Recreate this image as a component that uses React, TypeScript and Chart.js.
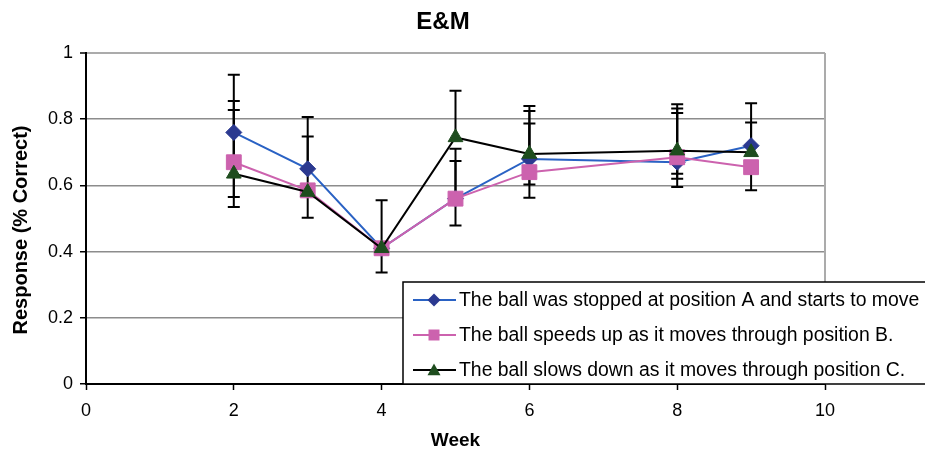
import React, { useEffect, useRef } from 'react';
import { Chart, registerables } from 'chart.js';

Chart.register(...registerables);

const chartTitle = 'E&M';
const xTitle = 'Week';
const yTitle = 'Response (% Correct)';

const weeks = [2, 3, 4, 5, 6, 8, 9];
const xTicks = [0, 2, 4, 6, 8, 10];
const yTicks = [0, 0.2, 0.4, 0.6, 0.8, 1];

const labelA = 'The ball was stopped at position A and starts to move';
const labelB = 'The ball speeds up as it moves through position B.';
const labelC = 'The ball slows down as it moves through position C.';

const valuesA = [0.76, 0.65, 0.41, 0.56, 0.68, 0.67, 0.72];
const valuesB = [0.67, 0.585, 0.41, 0.56, 0.64, 0.685, 0.655];
const valuesC = [0.635, 0.58, 0.41, 0.745, 0.695, 0.705, 0.7];

const errPlusA = [0.174, 0.157, 0, 0.114, 0.145, 0.149, 0.128];
const errMinusA = [0.195, 0, 0, 0, 0.077, 0.035, 0];
const errPlusB = [0.185, 0.163, 0, 0.151, 0.147, 0.147, 0];
const errMinusB = [0.135, 0, 0, 0.081, 0.077, 0.065, 0.07];
const errPlusC = [0.193, 0, 0.145, 0.141, 0.145, 0.14, 0.09];
const errMinusC = [0, 0.078, 0.073, 0, 0, 0.11, 0];

const FONT = "'Liberation Sans', Arial, sans-serif";

function pts(vals: number[]) {
  return weeks.map((w, i) => ({ x: w, y: vals[i] }));
}

const errorBarPlugin = {
  id: 'errorBars',
  beforeDatasetsDraw(chart: any) {
    const { ctx, chartArea, scales } = chart;
    const xs = scales.x;
    const ys = scales.y;
    ctx.save();
    ctx.strokeStyle = '#ababab';
    ctx.lineWidth = 2;
    ctx.beginPath();
    ctx.moveTo(chartArea.right, chartArea.top);
    ctx.lineTo(chartArea.right, chartArea.bottom);
    ctx.stroke();

    ctx.strokeStyle = '#000';
    ctx.lineWidth = 2;
    const cap = 6;
    chart.data.datasets.forEach((ds: any) => {
      const vals: number[] = ds.data.map((p: any) => p.y);
      ds.data.forEach((p: any, j: number) => {
        const x = xs.getPixelForValue(p.x);
        const y0 = ys.getPixelForValue(vals[j]);
        const plus = ds.errPlus[j];
        const minus = ds.errMinus[j];
        if (plus > 0) {
          const y1 = ys.getPixelForValue(vals[j] + plus);
          ctx.beginPath();
          ctx.moveTo(x, y0);
          ctx.lineTo(x, y1);
          ctx.moveTo(x - cap, y1);
          ctx.lineTo(x + cap, y1);
          ctx.stroke();
        }
        if (minus > 0) {
          const y2 = ys.getPixelForValue(vals[j] - minus);
          ctx.beginPath();
          ctx.moveTo(x, y0);
          ctx.lineTo(x, y2);
          ctx.moveTo(x - cap, y2);
          ctx.lineTo(x + cap, y2);
          ctx.stroke();
        }
      });
    });
    ctx.restore();
  },
};

function drawMarker(ctx: CanvasRenderingContext2D, style: string, x: number, y: number, r: number, fill: string) {
  ctx.fillStyle = fill;
  ctx.beginPath();
  if (style === 'rectRot') {
    ctx.moveTo(x, y - r);
    ctx.lineTo(x + r, y);
    ctx.lineTo(x, y + r);
    ctx.lineTo(x - r, y);
  } else if (style === 'rect') {
    ctx.rect(x - r, y - r, 2 * r, 2 * r);
  } else {
    ctx.moveTo(x, y - r);
    ctx.lineTo(x + r, y + r * 0.8);
    ctx.lineTo(x - r, y + r * 0.8);
  }
  ctx.closePath();
  ctx.fill();
}

const overlayPlugin = {
  id: 'overlay',
  afterDraw(chart: any) {
    const { ctx, chartArea } = chart;
    ctx.save();
    ctx.fillStyle = '#000';
    ctx.textAlign = 'center';
    ctx.textBaseline = 'middle';
    ctx.font = `bold 24px ${FONT}`;
    ctx.fillText(chartTitle, 443, 22);
    ctx.font = `bold 19px ${FONT}`;
    ctx.fillText(xTitle, (chartArea.left + chartArea.right) / 2, 441);
    ctx.save();
    ctx.translate(21, 230);
    ctx.rotate(-Math.PI / 2);
    ctx.font = `bold 20px ${FONT}`;
    ctx.fillText(yTitle, 0, 0);
    ctx.restore();

    const lx = 403;
    const ly = 282;
    ctx.fillStyle = '#fff';
    ctx.fillRect(lx, ly, 560, chartArea.bottom - ly);
    ctx.strokeStyle = '#000';
    ctx.lineWidth = 1.5;
    ctx.strokeRect(lx, ly, 560, chartArea.bottom - ly);
    const rows = [300, 335, 370];
    chart.data.datasets.forEach((ds: any, i: number) => {
      const y = rows[i];
      ctx.strokeStyle = ds.borderColor;
      ctx.lineWidth = 2;
      ctx.beginPath();
      ctx.moveTo(lx + 10, y);
      ctx.lineTo(lx + 53, y);
      ctx.stroke();
      drawMarker(ctx, ds.pointStyle, lx + 31, y, ds.pointStyle === 'rect' ? 5.5 : 6.5, ds.pointBackgroundColor);
      ctx.fillStyle = '#000';
      ctx.textAlign = 'left';
      ctx.textBaseline = 'middle';
      ctx.font = `19.4px ${FONT}`;
      ctx.fillText(ds.label, lx + 56, y + 1);
    });
    ctx.restore();
  },
};

export default function App() {
  const ref = useRef<HTMLCanvasElement>(null);
  useEffect(() => {
    if (!ref.current) return;
    const chart = new Chart(ref.current, {
      type: 'line',
      data: {
        datasets: [
          {
            label: labelA,
            data: pts(valuesA),
            errPlus: errPlusA,
            errMinus: errMinusA,
            order: 3,
            borderColor: '#2a62c4',
            borderWidth: 2,
            pointStyle: 'rectRot',
            pointRadius: 8,
            pointBackgroundColor: '#2b3990',
            pointBorderColor: '#2b3990',
            pointBorderWidth: 1,
          } as any,
          {
            label: labelB,
            data: pts(valuesB),
            errPlus: errPlusB,
            errMinus: errMinusB,
            order: 2,
            borderColor: '#cc62ae',
            borderWidth: 2,
            pointStyle: 'rect',
            pointRadius: 10.5,
            pointBackgroundColor: '#cc62ae',
            pointBorderColor: '#cc62ae',
            pointBorderWidth: 1,
          } as any,
          {
            label: labelC,
            data: pts(valuesC),
            errPlus: errPlusC,
            errMinus: errMinusC,
            order: 1,
            borderColor: '#000000',
            borderWidth: 2,
            pointStyle: 'triangle',
            pointRadius: 8.5,
            pointBackgroundColor: '#1e4d1e',
            pointBorderColor: '#1e4d1e',
            pointBorderWidth: 1,
          } as any,
        ],
      },
      options: {
        animation: false,
        responsive: false,
        devicePixelRatio: 1,
        layout: { padding: { top: 53, right: 100, left: 0, bottom: 0 } },
        plugins: {
          legend: { display: false },
          title: { display: false },
          tooltip: { enabled: false },
        },
        scales: {
          x: {
            type: 'linear',
            min: 0,
            max: 10,
            afterFit: (s: any) => { s.height = 67; },
            afterBuildTicks: (s: any) => { s.ticks = xTicks.map((v) => ({ value: v })); },
            ticks: {
              color: '#000',
              font: { family: FONT, size: 18 },
              padding: 10,
              maxRotation: 0,
              callback: (v: any) => String(v),
            },
            grid: {
              drawOnChartArea: false,
              drawTicks: true,
              tickLength: 6,
              tickColor: '#000',
              tickWidth: 1.5,
            },
            border: { color: '#000', width: 2 },
          },
          y: {
            type: 'linear',
            min: 0,
            max: 1,
            afterFit: (s: any) => { s.width = 86; },
            afterBuildTicks: (s: any) => { s.ticks = yTicks.map((v) => ({ value: v })); },
            ticks: {
              color: '#000',
              font: { family: FONT, size: 18 },
              padding: 7,
              callback: (v: any) => String(+Number(v).toFixed(1)),
            },
            grid: {
              color: (c: any) => (c.tick && c.tick.value === 1 ? '#ababab' : c.tick && c.tick.value === 0 ? 'rgba(0,0,0,0)' : '#8c8c8c'),
              lineWidth: (c: any) => (c.tick && c.tick.value === 1 ? 2 : 1.5),
              tickLength: 6,
              tickColor: '#000',
              tickWidth: 1.5,
            },
            border: { color: '#000', width: 2 },
          },
        },
      },
      plugins: [errorBarPlugin, overlayPlugin],
    } as any);
    return () => chart.destroy();
  }, []);
  return (
    <div style={{ position: 'absolute', left: 0, top: 0, width: 925, height: 451 }}>
      <canvas ref={ref} width={925} height={451} style={{ display: 'block' }} />
    </div>
  );
}
